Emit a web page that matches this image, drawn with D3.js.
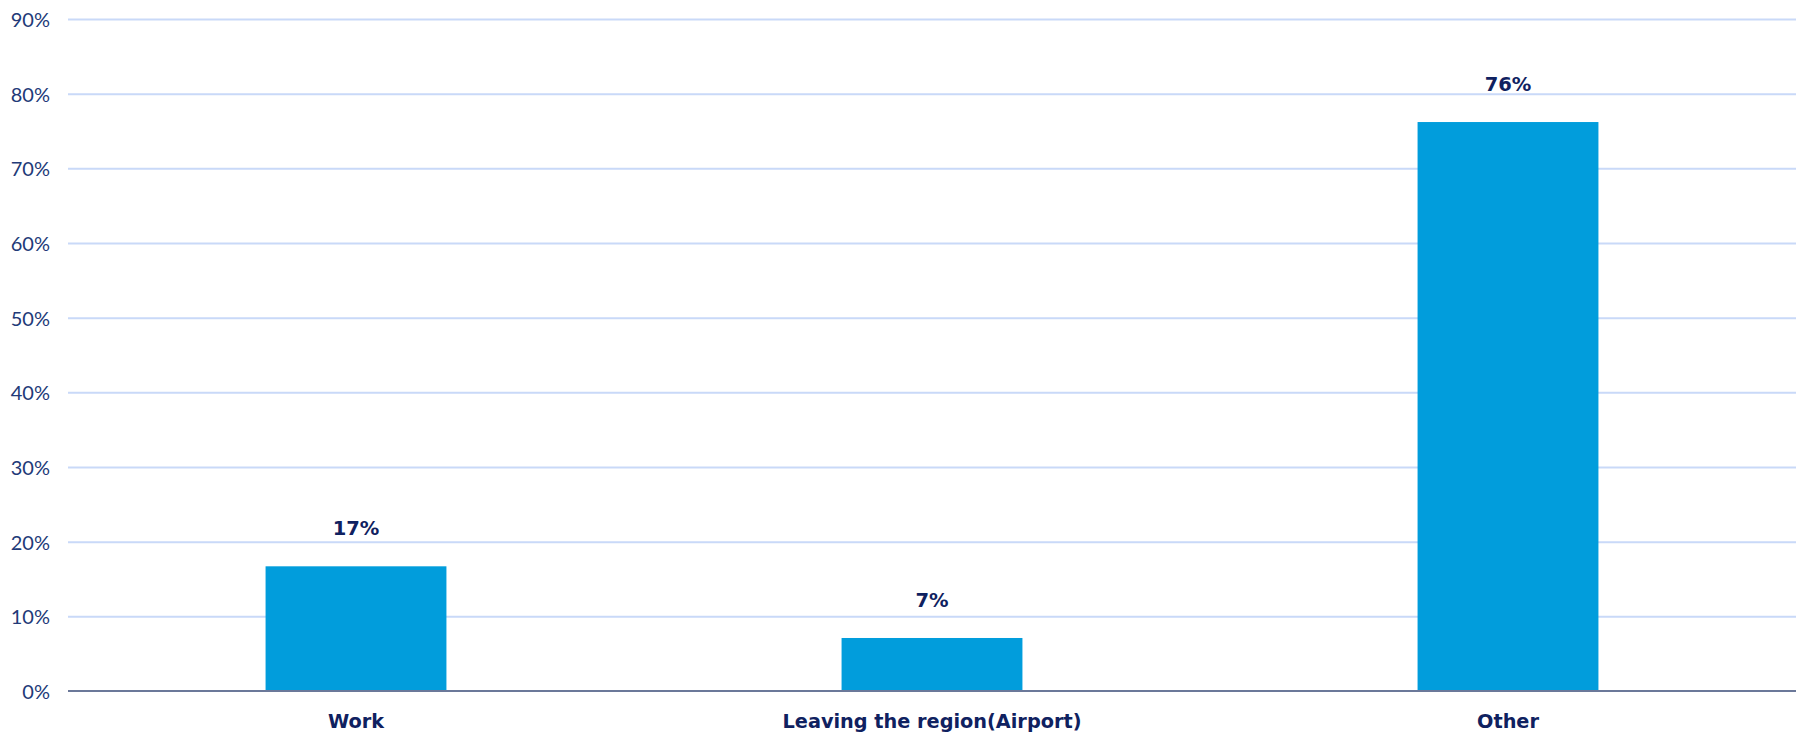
<!DOCTYPE html>
<html>
<head>
<meta charset="utf-8">
<script src="https://cdn.jsdelivr.net/npm/d3@7"></script>
<style>
  body { margin: 0; background: #fff; }
  svg text { font-family: Lato, "Noto Sans", sans-serif; }
</style>
</head>
<body>
<div id="chart"></div>
<script>
const categories = ["Work", "Leaving the region(Airport)", "Other"];
const values = [16.7, 7.1, 76.2];
const valueLabels = ["17%", "7%", "76%"];
const yTicks = [0, 10, 20, 30, 40, 50, 60, 70, 80, 90];

const ctx = {
    w: 1797,
    h: 735,
    marginTop: 19,
    marginRight: 1,
    marginBottom: 44,
    marginLeft: 68
};

function createViz() {
    const svg = d3.select("#chart").append("svg")
        .attr("width", ctx.w)
        .attr("height", ctx.h)
        .append("g")
        .attr("transform", `translate(${ctx.marginLeft},${ctx.marginTop})`);

    const width = ctx.w - ctx.marginLeft - ctx.marginRight;
    const height = ctx.h - ctx.marginTop - ctx.marginBottom;

    const x = d3.scaleBand()
        .domain(categories)
        .range([0, width])
        .paddingInner(0.686)
        .paddingOuter(0.343);

    const y = d3.scaleLinear()
        .domain([0, 90])
        .range([height, 0]);

    // gridlines + tick labels
    const yAxis = svg.append("g")
        .call(d3.axisLeft(y).tickValues(yTicks).tickFormat(d => d + "%").tickSize(0).tickPadding(18));
    yAxis.select(".domain").remove();
    yAxis.selectAll(".tick text")
        .attr("fill", "#223a78")
        .style("font-size", "20px")
        .attr("dy", "0.38em");
    yAxis.selectAll(".tick")
        .filter(d => d !== 0)
        .append("line")
        .attr("x1", 0)
        .attr("x2", width)
        .attr("stroke", "#c9d9f8")
        .attr("stroke-width", 2);

    // bars
    svg.selectAll(".bar")
        .data(values)
        .join("rect")
        .attr("class", "bar")
        .attr("x", (d, i) => x(categories[i]))
        .attr("width", x.bandwidth())
        .attr("y", d => y(d))
        .attr("height", d => height - y(d))
        .attr("fill", "#019ddc");

    // baseline
    svg.append("line")
        .attr("x1", 0)
        .attr("x2", width)
        .attr("y1", height)
        .attr("y2", height)
        .attr("stroke", "#6b7899")
        .attr("stroke-width", 2);

    // value labels
    svg.selectAll(".val")
        .data(values)
        .join("text")
        .attr("class", "val")
        .attr("x", (d, i) => x(categories[i]) + x.bandwidth() / 2)
        .attr("y", d => y(d) - 31)
        .attr("text-anchor", "middle")
        .attr("fill", "#0f2160")
        .style("font-family", "'DejaVu Sans', sans-serif")
        .style("font-size", "19.5px")
        .style("font-weight", "bold")
        .text((d, i) => valueLabels[i]);

    // category labels
    svg.selectAll(".cat")
        .data(categories)
        .join("text")
        .attr("class", "cat")
        .attr("x", d => x(d) + x.bandwidth() / 2)
        .attr("y", height + 37)
        .attr("text-anchor", "middle")
        .attr("fill", "#0f2160")
        .style("font-family", "'DejaVu Sans', sans-serif")
        .style("font-size", "19.3px")
        .style("font-weight", "bold")
        .text(d => d);
}

document.addEventListener("DOMContentLoaded", function () {
    createViz();
});
</script>
</body>
</html>
